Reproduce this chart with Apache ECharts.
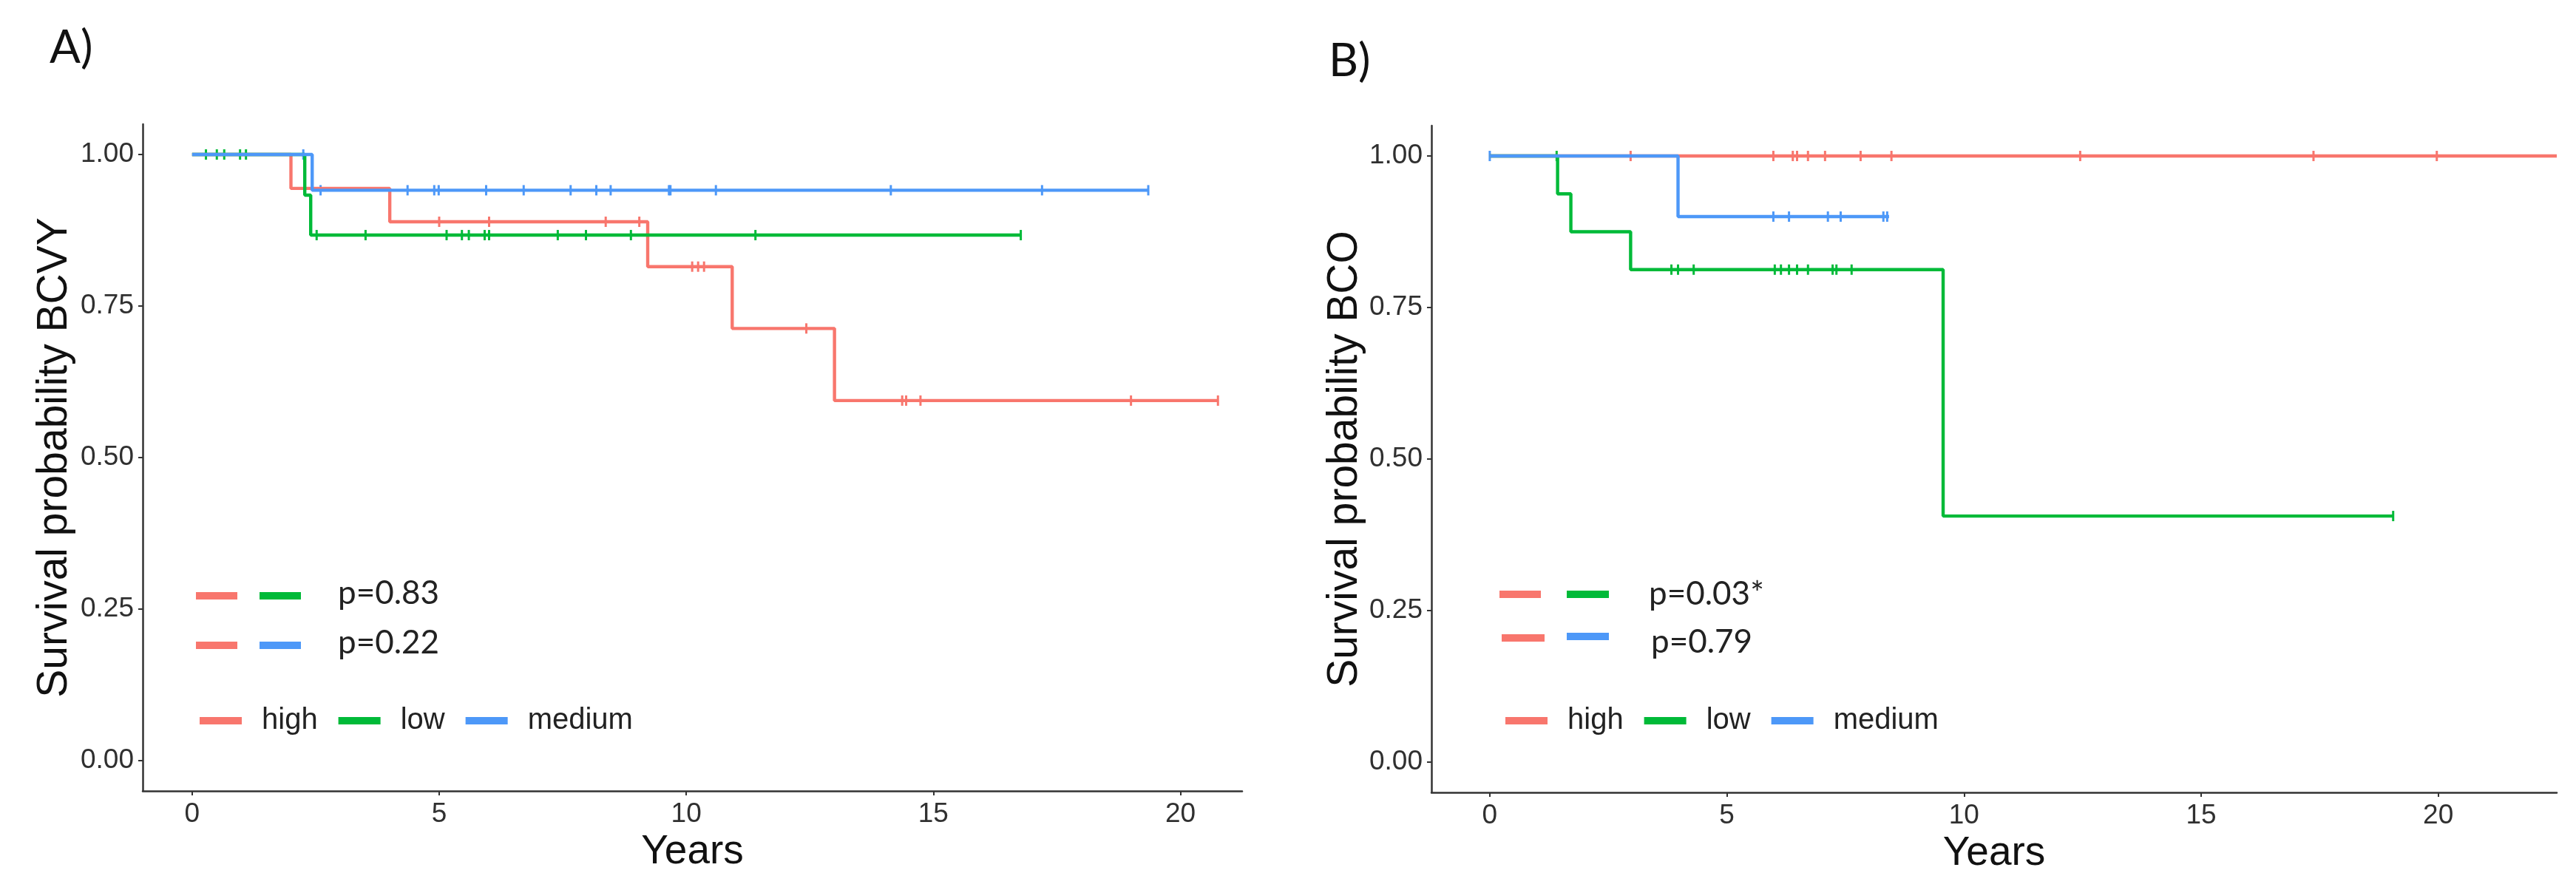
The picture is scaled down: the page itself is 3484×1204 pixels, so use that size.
<!DOCTYPE html>
<html>
<head>
<meta charset="utf-8">
<script src="https://cdn.jsdelivr.net/npm/echarts@6/dist/echarts.min.js"></script>
<style>
  html, body { margin: 0; padding: 0; background: #ffffff; }
  #chart { width: 3484px; height: 1204px; }
</style>
</head>
<body>
<div id="chart"></div>
<script>
// ---------- data ----------
const groupNames = ['high', 'low', 'medium'];
const xTicks = [0, 5, 10, 15, 20];
const yTicks = [0, 0.25, 0.5, 0.75, 1];

// Panel A (BCVY)
const highA_times  = [0, 2.0, 4.0, 9.22, 10.93, 13.0, 20.76];
const highA_surv   = [1, 0.944, 0.889, 0.815, 0.713, 0.594, 0.594];
const highA_censor = [5.0, 6.01, 8.37, 9.05, 10.12, 10.24, 10.36, 12.43, 14.37, 14.45, 14.74, 19.0, 20.76];

const lowA_times   = [0, 2.28, 2.40, 16.77];
const lowA_surv    = [1, 0.933, 0.867, 0.867];
const lowA_censor  = [0.28, 0.5, 0.65, 0.97, 1.09, 2.52, 3.51, 5.15, 5.46, 5.6, 5.92, 6.01, 7.40, 7.97, 8.88, 11.40, 16.77];

const medA_times   = [0, 2.43, 19.35];
const medA_surv    = [1, 0.941, 0.941];
const medA_censor  = [2.25, 2.6, 4.36, 4.9, 4.99, 5.95, 6.71, 7.66, 8.18, 8.47, 9.65, 9.68, 10.6, 14.14, 17.2, 19.35];

// Panel B (BCO)
const highB_times  = [0, 22.5];
const highB_surv   = [1, 1];
const highB_censor = [2.97, 5.98, 6.39, 6.48, 6.71, 7.07, 7.82, 8.47, 12.45, 17.37, 19.97];

const lowB_times   = [0, 1.43, 1.71, 2.97, 9.56, 19.05];
const lowB_surv    = [1, 0.9375, 0.875, 0.8125, 0.406, 0.406];
const lowB_censor  = [1.41, 3.83, 3.97, 4.3, 6.01, 6.14, 6.31, 6.48, 6.71, 7.23, 7.31, 7.63, 19.05];

const medB_times   = [0, 3.97, 8.42];
const medB_surv    = [1, 0.9, 0.9];
const medB_censor  = [0, 5.98, 6.31, 7.13, 7.40, 8.30, 8.38];

const pLabelsA = ['p=0.83', 'p=0.22'];
const pLabelsB = ['p=0.03*', 'p=0.79'];
const yTitles = ['Survival probability BCVY', 'Survival probability BCO'];
const xTitle = 'Years';
const panelLabels = ['A)', 'B)'];

// ---------- styles ----------
const COLORS = { high: '#F8766D', low: '#00BA38', medium: '#4D98F8' };
const SANS = "'Liberation Sans', Arial, sans-serif";
const PFONT = "Lato, 'Noto Sans', sans-serif";
const AXIS_COLOR = '#333333';

function survAt(times, surv, t) {
  let s = surv[0];
  for (let i = 0; i < times.length; i++) { if (times[i] <= t) s = surv[i]; }
  return s;
}

const panels = [
  { groups: [
      { name: 'high', t: highA_times, s: highA_surv, c: highA_censor },
      { name: 'low', t: lowA_times, s: lowA_surv, c: lowA_censor },
      { name: 'medium', t: medA_times, s: medA_surv, c: medA_censor } ],
    xMin: -1.0, xMax: 21.25 },
  { groups: [
      { name: 'high', t: highB_times, s: highB_surv, c: highB_censor },
      { name: 'low', t: lowB_times, s: lowB_surv, c: lowB_censor },
      { name: 'medium', t: medB_times, s: medB_surv, c: medB_censor } ],
    xMin: -1.23, xMax: 22.5 }
];

const grids = [
  { left: 193, top: 168, width: 1487, height: 902 },
  { left: 1936, top: 170, width: 1522, height: 902 }
];
const yNameGaps = [90, 84];

const xAxes = [], yAxes = [], lineSeries = [], markSeries = [];
panels.forEach((p, i) => {
  xAxes.push({
    type: 'value', gridIndex: i, min: p.xMin, max: p.xMax,
    name: xTitle, nameLocation: 'middle', nameGap: 46,
    nameTextStyle: { fontFamily: SANS, fontSize: 55, color: '#111' },
    axisLine: { show: true, onZero: false, lineStyle: { color: AXIS_COLOR, width: 2.5 } },
    axisTick: { show: true, length: 6, lineStyle: { color: AXIS_COLOR, width: 2 }, customValues: xTicks },
    axisLabel: { fontFamily: SANS, fontSize: 37, color: '#303030', margin: 13, customValues: xTicks },
    splitLine: { show: false }
  });
  yAxes.push({
    type: 'value', gridIndex: i, min: -0.05, max: 1.05,
    name: yTitles[i], nameLocation: 'middle', nameGap: yNameGaps[i], nameRotate: 90,
    nameTextStyle: { fontFamily: SANS, fontSize: 57, color: '#111' },
    axisLine: { show: true, onZero: false, lineStyle: { color: AXIS_COLOR, width: 2.5 } },
    axisTick: { show: true, length: 6, lineStyle: { color: AXIS_COLOR, width: 2 }, customValues: yTicks },
    axisLabel: { fontFamily: SANS, fontSize: 37, color: '#303030', margin: 12, customValues: yTicks,
                 formatter: v => Number(v).toFixed(2) },
    splitLine: { show: false }
  });
  p.groups.forEach(g => {
    lineSeries.push({
      type: 'line', name: g.name, xAxisIndex: i, yAxisIndex: i,
      step: 'end', showSymbol: false, symbol: 'none',
      color: COLORS[g.name], itemStyle: { color: COLORS[g.name] },
      lineStyle: { color: COLORS[g.name], width: 4.4 },
      data: g.t.map((t, k) => [t, g.s[k]]),
      animation: false, silent: true
    });
    markSeries.push({
      type: 'scatter', name: g.name, xAxisIndex: i, yAxisIndex: i,
      symbol: 'rect', symbolSize: [3, 14],
      itemStyle: { color: COLORS[g.name], opacity: 1 },
      data: g.c.map(t => [t, survAt(g.t, g.s, t)]),
      animation: false, silent: true
    });
  });
});

// p-value legend keys drawn as graphic elements
function keyRect(x1, x2, yc, color) {
  return { type: 'rect', shape: { x: x1, y: yc - 5, width: x2 - x1, height: 10 }, style: { fill: color } };
}
function pText(x, yc, txt) {
  return { type: 'text', x: x, y: yc, style: { text: txt, font: '44px ' + PFONT, fill: '#222', verticalAlign: 'middle' } };
}
const graphics = [
  { type: 'text', x: 67, y: 65, style: { text: panelLabels[0], font: '62px ' + PFONT, fill: '#111', verticalAlign: 'middle' } },
  { type: 'text', x: 1797, y: 83, style: { text: panelLabels[1], font: '62px ' + PFONT, fill: '#111', verticalAlign: 'middle' } },
  keyRect(265, 321, 806, COLORS.high), keyRect(351, 407, 806, COLORS.low), pText(457, 803, pLabelsA[0]),
  keyRect(265, 321, 873, COLORS.high), keyRect(351, 407, 873, COLORS.medium), pText(457, 870, pLabelsA[1]),
  keyRect(2028, 2084, 804, COLORS.high), keyRect(2119, 2176, 804, COLORS.low), pText(2230, 804, pLabelsB[0]),
  keyRect(2031, 2089, 863, COLORS.high), keyRect(2119, 2176, 861, COLORS.medium), pText(2233, 869, pLabelsB[1])
];

const legendCommon = {
  data: groupNames, orient: 'horizontal', icon: 'rect', itemWidth: 57, itemHeight: 10, itemGap: 28,
  selectedMode: false,
  textStyle: { fontFamily: SANS, fontSize: 40, color: '#222', padding: [0, 0, 0, 22] }
};

const chart = echarts.init(document.getElementById('chart'), null, { renderer: 'canvas' });
chart.setOption({
  backgroundColor: '#ffffff',
  animation: false,
  grid: grids,
  xAxis: xAxes,
  yAxis: yAxes,
  legend: [
    Object.assign({}, legendCommon, { left: 265, top: 950 }),
    Object.assign({}, legendCommon, { left: 2031, top: 950 })
  ],
  graphic: graphics,
  series: lineSeries.concat(markSeries)
});
</script>
</body>
</html>
